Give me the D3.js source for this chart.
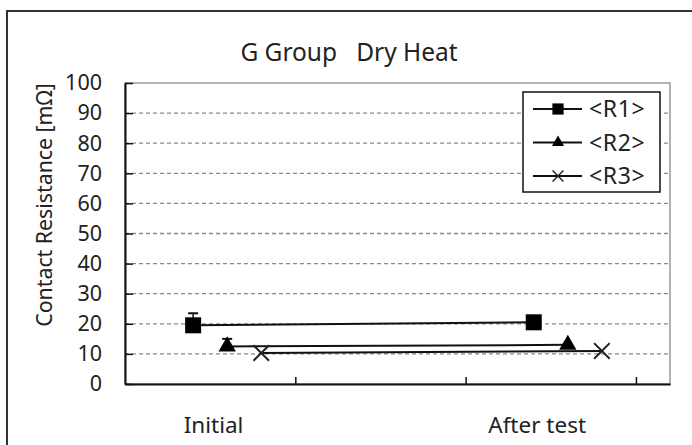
<!DOCTYPE html>
<html>
<head>
<meta charset="utf-8">
<script src="https://cdnjs.cloudflare.com/ajax/libs/d3/7.8.5/d3.min.js"></script>
<style>
  body { margin: 0; background: #fff; }
  text { font-family: "Noto Sans", "DejaVu Sans", sans-serif; fill: #222; }
</style>
</head>
<body>
<script>
// chart data
const title = "G Group\u00a0\u00a0\u00a0Dry Heat";
const yTitle = "Contact Resistance [m\u03a9]";
const categories = ["Initial", "After test"];
const seriesNames = ["<R1>", "<R2>", "<R3>"];
const seriesSymbols = ["square", "triangle", "cross"];
const r1 = [19.5, 20.5];
const r2 = [12.5, 13.0];
const r3 = [10.3, 11.0];
const r1Max = [23.5, null];
const r2Max = [15.0, null];
const r3Max = [null, null];
const yTicks = [0, 10, 20, 30, 40, 50, 60, 70, 80, 90, 100];

const series = seriesNames.map((name, s) => ({
  name: name,
  symbol: seriesSymbols[s],
  values: [r1, r2, r3][s],
  max: [r1Max, r2Max, r3Max][s]
}));

const W = 692, H = 445;
const plot = { left: 125, right: 670, top: 83, bottom: 384 };

const svg = d3.select("body").append("svg")
  .attr("width", W)
  .attr("height", H);

// outer chart frame (runs off the right and bottom edges)
svg.append("rect")
  .attr("x", 7).attr("y", 11)
  .attr("width", 720).attr("height", 480)
  .attr("fill", "none")
  .attr("stroke", "#333")
  .attr("stroke-width", 2);

// x is the spreadsheet's numeric axis, each category takes 2 units
const x = d3.scaleLinear().domain([0, 3.2]).range([plot.left, plot.right]);
const y = d3.scaleLinear().domain([0, 100]).range([plot.bottom, plot.top]);
const xOf = (s, i) => x(2 * i + 0.4 + 0.2 * s);

// gridlines
svg.append("g")
  .selectAll("line")
  .data(yTicks.filter(d => d > 0 && d < 100))
  .enter().append("line")
  .attr("x1", plot.left).attr("x2", plot.right)
  .attr("y1", d => y(d)).attr("y2", d => y(d))
  .attr("stroke", "#8a8a8a")
  .attr("stroke-width", 1.3)
  .attr("stroke-dasharray", "4,3");

// plot area border
svg.append("rect")
  .attr("x", plot.left).attr("y", plot.top)
  .attr("width", plot.right - plot.left)
  .attr("height", plot.bottom - plot.top)
  .attr("fill", "none")
  .attr("stroke", "#999")
  .attr("stroke-width", 1.5);

// y axis
const yAxis = d3.axisLeft(y).tickValues(yTicks).tickSizeInner(-8).tickSizeOuter(0).tickPadding(23);
const gy = svg.append("g")
  .attr("transform", "translate(" + plot.left + ",0)")
  .call(yAxis);
gy.select(".domain").attr("stroke", "#111").attr("stroke-width", 2);
gy.selectAll(".tick line").attr("stroke", "#111").attr("stroke-width", 1.5);
gy.selectAll(".tick text")
  .attr("font-size", 21.5)
  .attr("font-family", null)
  .attr("fill", "#222");

// x axis, ticks only
const xAxis = d3.axisBottom(x).tickValues([1, 2, 3]).tickSizeInner(-7).tickSizeOuter(0).tickFormat("");
const gx = svg.append("g")
  .attr("transform", "translate(0," + plot.bottom + ")")
  .call(xAxis);
gx.select(".domain").attr("stroke", "#111").attr("stroke-width", 2);
gx.selectAll(".tick line").attr("stroke", "#111").attr("stroke-width", 1.5);

// category labels
const catLabelAt = [0.52, 2.42];
svg.selectAll(".cat")
  .data(categories)
  .enter().append("text")
  .attr("class", "cat")
  .attr("x", (d, i) => x(catLabelAt[i]))
  .attr("y", 433)
  .attr("text-anchor", "middle")
  .attr("font-size", 22.5)
  .text(d => d);

// title
svg.append("text")
  .attr("x", 349).attr("y", 61)
  .attr("text-anchor", "middle")
  .attr("font-size", 24.5)
  .text(title);

// y title
svg.append("text")
  .attr("transform", "translate(52,205) rotate(-90)")
  .attr("text-anchor", "middle")
  .attr("font-size", 21.3)
  .text(yTitle);

const symbolPath = {
  square: d3.symbol().type(d3.symbolSquare).size(256),
  triangle: d3.symbol().type(d3.symbolTriangle).size(130),
  cross: d3.symbol().type(d3.symbolX).size(160)
};
function drawMarker(g, sym) {
  const p = g.append("path").attr("d", symbolPath[sym]());
  if (sym === "cross") {
    p.attr("fill", "none").attr("stroke", "#222").attr("stroke-width", 2);
  } else {
    p.attr("fill", "#000");
  }
}

const line = d3.line().x(d => d.x).y(d => d.y);

series.forEach((sr, s) => {
  const pts = sr.values.map((v, i) => ({ x: xOf(s, i), y: y(v), max: sr.max[i], v: v }));
  svg.append("path")
    .attr("d", line(pts))
    .attr("fill", "none")
    .attr("stroke", "#111")
    .attr("stroke-width", 2);
  pts.forEach(p => {
    if (p.max != null) {
      svg.append("line")
        .attr("x1", p.x).attr("x2", p.x)
        .attr("y1", p.y).attr("y2", y(p.max))
        .attr("stroke", "#111").attr("stroke-width", 1.5);
      svg.append("line")
        .attr("x1", p.x - 5).attr("x2", p.x + 5)
        .attr("y1", y(p.max)).attr("y2", y(p.max))
        .attr("stroke", "#111").attr("stroke-width", 2);
    }
    const g = svg.append("g").attr("transform", "translate(" + p.x + "," + p.y + ")");
    drawMarker(g, sr.symbol);
  });
});

// legend
const legend = svg.append("g").attr("transform", "translate(523,92)");
legend.append("rect")
  .attr("width", 137).attr("height", 100)
  .attr("fill", "#fff")
  .attr("stroke", "#111")
  .attr("stroke-width", 1.5);
const leg = legend.selectAll(".leg")
  .data(series)
  .enter().append("g")
  .attr("class", "leg")
  .attr("transform", (d, i) => "translate(0," + (17 + i * 33.5) + ")");
leg.append("line")
  .attr("x1", 10).attr("x2", 59)
  .attr("stroke", "#111").attr("stroke-width", 2);
leg.each(function(d) {
  const g = d3.select(this).append("g").attr("transform", "translate(35,0) scale(0.7)");
  drawMarker(g, d.symbol);
});
leg.append("text")
  .attr("x", 66).attr("y", 8)
  .attr("font-size", 23)
  .attr("letter-spacing", 0.6)
  .text(d => d.name);
</script>
</body>
</html>
